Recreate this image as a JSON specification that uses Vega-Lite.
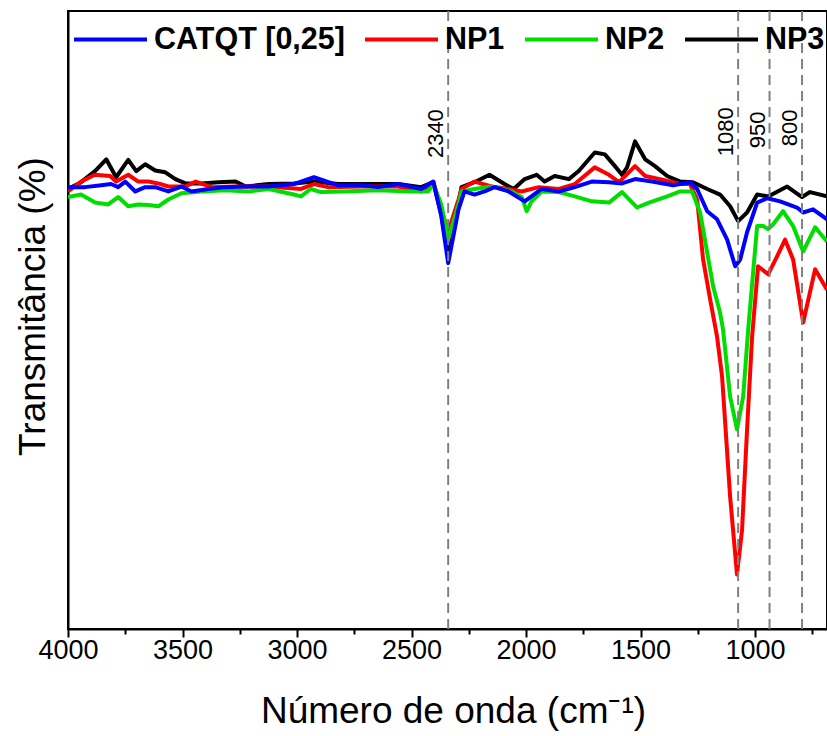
{
  "$schema": "https://vega.github.io/schema/vega-lite/v6.json",
  "width": 759,
  "height": 618,
  "autosize": {"type": "none"},
  "padding": {"left": 68, "top": 11, "right": 0, "bottom": 107},
  "background": "white",
  "config": {
    "font": "Liberation Sans",
    "view": {"stroke": "black", "strokeWidth": 2},
    "axis": {"domainColor": "black", "domainWidth": 2, "tickColor": "black", "tickWidth": 2, "labelColor": "black", "titleColor": "black", "grid": false, "labelFontSize": 27, "titleFontSize": 37, "titleFontWeight": "normal"}
  },
  "resolve": {"axis": {"x": "independent"}},
  "layer": [
    {
      "data": {"values": [
        {"s":"NP3","wn":4000,"t":71.2},{"s":"NP3","wn":3943,"t":72.3},{"s":"NP3","wn":3882,"t":74.1},{"s":"NP3","wn":3833,"t":76.0},{"s":"NP3","wn":3790,"t":73.1},{"s":"NP3","wn":3737,"t":75.9},{"s":"NP3","wn":3702,"t":74.1},{"s":"NP3","wn":3663,"t":75.2},{"s":"NP3","wn":3619,"t":74.2},{"s":"NP3","wn":3575,"t":73.9},{"s":"NP3","wn":3531,"t":72.8},{"s":"NP3","wn":3487,"t":72.1},{"s":"NP3","wn":3417,"t":72.1},{"s":"NP3","wn":3343,"t":72.3},{"s":"NP3","wn":3268,"t":72.4},{"s":"NP3","wn":3224,"t":71.6},{"s":"NP3","wn":3124,"t":72.0},{"s":"NP3","wn":3014,"t":72.1},{"s":"NP3","wn":2926,"t":72.4},{"s":"NP3","wn":2821,"t":72.0},{"s":"NP3","wn":2720,"t":72.0},{"s":"NP3","wn":2558,"t":72.0},{"s":"NP3","wn":2458,"t":71.5},{"s":"NP3","wn":2405,"t":72.3},{"s":"NP3","wn":2370,"t":67.1},{"s":"NP3","wn":2340,"t":60.1},{"s":"NP3","wn":2295,"t":68.7},{"s":"NP3","wn":2282,"t":71.5},{"s":"NP3","wn":2225,"t":72.3},{"s":"NP3","wn":2160,"t":73.5},{"s":"NP3","wn":2094,"t":72.0},{"s":"NP3","wn":2054,"t":71.2},{"s":"NP3","wn":2006,"t":72.8},{"s":"NP3","wn":1954,"t":73.5},{"s":"NP3","wn":1919,"t":72.4},{"s":"NP3","wn":1875,"t":73.3},{"s":"NP3","wn":1813,"t":72.8},{"s":"NP3","wn":1770,"t":74.1},{"s":"NP3","wn":1700,"t":77.1},{"s":"NP3","wn":1656,"t":76.8},{"s":"NP3","wn":1612,"t":74.9},{"s":"NP3","wn":1581,"t":73.5},{"s":"NP3","wn":1559,"t":74.7},{"s":"NP3","wn":1524,"t":78.9},{"s":"NP3","wn":1480,"t":76.0},{"s":"NP3","wn":1437,"t":74.9},{"s":"NP3","wn":1384,"t":73.3},{"s":"NP3","wn":1327,"t":72.4},{"s":"NP3","wn":1271,"t":72.3},{"s":"NP3","wn":1209,"t":71.2},{"s":"NP3","wn":1153,"t":70.3},{"s":"NP3","wn":1109,"t":68.4},{"s":"NP3","wn":1074,"t":66.0},{"s":"NP3","wn":1035,"t":67.4},{"s":"NP3","wn":991,"t":70.3},{"s":"NP3","wn":943,"t":70.0},{"s":"NP3","wn":860,"t":71.6},{"s":"NP3","wn":795,"t":69.9},{"s":"NP3","wn":760,"t":70.7},{"s":"NP3","wn":686,"t":70.0},
        {"s":"NP1","wn":4000,"t":70.8},{"s":"NP1","wn":3943,"t":72.4},{"s":"NP1","wn":3882,"t":73.5},{"s":"NP1","wn":3816,"t":73.3},{"s":"NP1","wn":3790,"t":72.4},{"s":"NP1","wn":3737,"t":73.5},{"s":"NP1","wn":3693,"t":72.4},{"s":"NP1","wn":3649,"t":72.4},{"s":"NP1","wn":3606,"t":72.1},{"s":"NP1","wn":3562,"t":71.6},{"s":"NP1","wn":3487,"t":71.6},{"s":"NP1","wn":3443,"t":72.4},{"s":"NP1","wn":3373,"t":71.5},{"s":"NP1","wn":3268,"t":71.6},{"s":"NP1","wn":3124,"t":71.6},{"s":"NP1","wn":2983,"t":71.2},{"s":"NP1","wn":2926,"t":72.0},{"s":"NP1","wn":2865,"t":71.5},{"s":"NP1","wn":2720,"t":71.6},{"s":"NP1","wn":2558,"t":71.6},{"s":"NP1","wn":2458,"t":70.8},{"s":"NP1","wn":2405,"t":72.3},{"s":"NP1","wn":2370,"t":67.9},{"s":"NP1","wn":2340,"t":64.3},{"s":"NP1","wn":2295,"t":69.5},{"s":"NP1","wn":2282,"t":71.2},{"s":"NP1","wn":2225,"t":72.4},{"s":"NP1","wn":2151,"t":71.6},{"s":"NP1","wn":2076,"t":71.2},{"s":"NP1","wn":2019,"t":70.8},{"s":"NP1","wn":1945,"t":71.5},{"s":"NP1","wn":1857,"t":71.2},{"s":"NP1","wn":1787,"t":72.0},{"s":"NP1","wn":1700,"t":74.7},{"s":"NP1","wn":1638,"t":73.5},{"s":"NP1","wn":1594,"t":72.3},{"s":"NP1","wn":1524,"t":74.9},{"s":"NP1","wn":1480,"t":73.3},{"s":"NP1","wn":1415,"t":72.8},{"s":"NP1","wn":1327,"t":72.0},{"s":"NP1","wn":1284,"t":72.0},{"s":"NP1","wn":1253,"t":69.5},{"s":"NP1","wn":1227,"t":59.8},{"s":"NP1","wn":1196,"t":53.3},{"s":"NP1","wn":1166,"t":47.3},{"s":"NP1","wn":1144,"t":40.8},{"s":"NP1","wn":1109,"t":21.4},{"s":"NP1","wn":1079,"t":8.8},{"s":"NP1","wn":1057,"t":16.0},{"s":"NP1","wn":1035,"t":32.3},{"s":"NP1","wn":1013,"t":47.3},{"s":"NP1","wn":987,"t":58.7},{"s":"NP1","wn":943,"t":57.4},{"s":"NP1","wn":904,"t":60.3},{"s":"NP1","wn":869,"t":63.0},{"s":"NP1","wn":834,"t":59.8},{"s":"NP1","wn":790,"t":49.6},{"s":"NP1","wn":738,"t":58.2},{"s":"NP1","wn":686,"t":54.9},
        {"s":"NP2","wn":4000,"t":69.9},{"s":"NP2","wn":3943,"t":70.3},{"s":"NP2","wn":3882,"t":69.0},{"s":"NP2","wn":3825,"t":68.7},{"s":"NP2","wn":3781,"t":69.9},{"s":"NP2","wn":3737,"t":68.4},{"s":"NP2","wn":3693,"t":68.7},{"s":"NP2","wn":3649,"t":68.6},{"s":"NP2","wn":3606,"t":68.4},{"s":"NP2","wn":3562,"t":69.5},{"s":"NP2","wn":3505,"t":70.5},{"s":"NP2","wn":3417,"t":70.8},{"s":"NP2","wn":3312,"t":71.0},{"s":"NP2","wn":3211,"t":70.8},{"s":"NP2","wn":3124,"t":71.2},{"s":"NP2","wn":3014,"t":70.3},{"s":"NP2","wn":2983,"t":70.0},{"s":"NP2","wn":2940,"t":71.2},{"s":"NP2","wn":2896,"t":70.7},{"s":"NP2","wn":2795,"t":70.8},{"s":"NP2","wn":2646,"t":71.0},{"s":"NP2","wn":2501,"t":70.8},{"s":"NP2","wn":2427,"t":70.8},{"s":"NP2","wn":2405,"t":72.0},{"s":"NP2","wn":2370,"t":68.7},{"s":"NP2","wn":2340,"t":63.0},{"s":"NP2","wn":2295,"t":68.7},{"s":"NP2","wn":2282,"t":70.8},{"s":"NP2","wn":2225,"t":71.2},{"s":"NP2","wn":2151,"t":71.6},{"s":"NP2","wn":2063,"t":70.8},{"s":"NP2","wn":2019,"t":69.9},{"s":"NP2","wn":1997,"t":67.6},{"s":"NP2","wn":1976,"t":69.2},{"s":"NP2","wn":1932,"t":70.8},{"s":"NP2","wn":1857,"t":70.7},{"s":"NP2","wn":1787,"t":70.0},{"s":"NP2","wn":1713,"t":69.2},{"s":"NP2","wn":1638,"t":69.0},{"s":"NP2","wn":1581,"t":70.7},{"s":"NP2","wn":1515,"t":68.2},{"s":"NP2","wn":1463,"t":69.0},{"s":"NP2","wn":1384,"t":70.0},{"s":"NP2","wn":1327,"t":70.8},{"s":"NP2","wn":1275,"t":70.8},{"s":"NP2","wn":1240,"t":67.4},{"s":"NP2","wn":1209,"t":60.9},{"s":"NP2","wn":1183,"t":55.4},{"s":"NP2","wn":1153,"t":51.2},{"s":"NP2","wn":1140,"t":48.5},{"s":"NP2","wn":1109,"t":37.6},{"s":"NP2","wn":1079,"t":32.3},{"s":"NP2","wn":1052,"t":37.6},{"s":"NP2","wn":1030,"t":48.5},{"s":"NP2","wn":991,"t":65.2},{"s":"NP2","wn":965,"t":65.2},{"s":"NP2","wn":943,"t":64.7},{"s":"NP2","wn":921,"t":65.5},{"s":"NP2","wn":878,"t":67.6},{"s":"NP2","wn":834,"t":65.2},{"s":"NP2","wn":790,"t":61.1},{"s":"NP2","wn":738,"t":65.0},{"s":"NP2","wn":686,"t":62.7},
        {"s":"CATQT [0,25]","wn":4000,"t":71.5},{"s":"CATQT [0,25]","wn":3926,"t":71.5},{"s":"CATQT [0,25]","wn":3855,"t":71.8},{"s":"CATQT [0,25]","wn":3812,"t":72.0},{"s":"CATQT [0,25]","wn":3781,"t":71.5},{"s":"CATQT [0,25]","wn":3750,"t":72.4},{"s":"CATQT [0,25]","wn":3706,"t":70.8},{"s":"CATQT [0,25]","wn":3663,"t":71.5},{"s":"CATQT [0,25]","wn":3619,"t":71.5},{"s":"CATQT [0,25]","wn":3562,"t":70.8},{"s":"CATQT [0,25]","wn":3505,"t":71.6},{"s":"CATQT [0,25]","wn":3461,"t":70.8},{"s":"CATQT [0,25]","wn":3387,"t":71.2},{"s":"CATQT [0,25]","wn":3312,"t":71.5},{"s":"CATQT [0,25]","wn":3224,"t":71.6},{"s":"CATQT [0,25]","wn":3124,"t":71.6},{"s":"CATQT [0,25]","wn":3014,"t":72.0},{"s":"CATQT [0,25]","wn":2926,"t":73.1},{"s":"CATQT [0,25]","wn":2821,"t":71.8},{"s":"CATQT [0,25]","wn":2720,"t":71.8},{"s":"CATQT [0,25]","wn":2646,"t":71.5},{"s":"CATQT [0,25]","wn":2558,"t":72.0},{"s":"CATQT [0,25]","wn":2458,"t":71.2},{"s":"CATQT [0,25]","wn":2405,"t":72.4},{"s":"CATQT [0,25]","wn":2370,"t":66.8},{"s":"CATQT [0,25]","wn":2340,"t":59.2},{"s":"CATQT [0,25]","wn":2295,"t":67.9},{"s":"CATQT [0,25]","wn":2269,"t":70.8},{"s":"CATQT [0,25]","wn":2225,"t":70.3},{"s":"CATQT [0,25]","wn":2181,"t":70.8},{"s":"CATQT [0,25]","wn":2138,"t":71.5},{"s":"CATQT [0,25]","wn":2076,"t":70.8},{"s":"CATQT [0,25]","wn":2006,"t":69.2},{"s":"CATQT [0,25]","wn":1932,"t":71.2},{"s":"CATQT [0,25]","wn":1857,"t":70.8},{"s":"CATQT [0,25]","wn":1787,"t":71.5},{"s":"CATQT [0,25]","wn":1713,"t":72.4},{"s":"CATQT [0,25]","wn":1638,"t":72.3},{"s":"CATQT [0,25]","wn":1581,"t":72.1},{"s":"CATQT [0,25]","wn":1524,"t":72.8},{"s":"CATQT [0,25]","wn":1450,"t":72.4},{"s":"CATQT [0,25]","wn":1358,"t":71.8},{"s":"CATQT [0,25]","wn":1284,"t":72.3},{"s":"CATQT [0,25]","wn":1253,"t":71.2},{"s":"CATQT [0,25]","wn":1209,"t":67.6},{"s":"CATQT [0,25]","wn":1166,"t":66.3},{"s":"CATQT [0,25]","wn":1122,"t":63.0},{"s":"CATQT [0,25]","wn":1087,"t":58.7},{"s":"CATQT [0,25]","wn":1065,"t":59.8},{"s":"CATQT [0,25]","wn":1035,"t":64.2},{"s":"CATQT [0,25]","wn":991,"t":69.0},{"s":"CATQT [0,25]","wn":947,"t":69.7},{"s":"CATQT [0,25]","wn":891,"t":69.2},{"s":"CATQT [0,25]","wn":817,"t":68.2},{"s":"CATQT [0,25]","wn":790,"t":67.4},{"s":"CATQT [0,25]","wn":747,"t":67.9},{"s":"CATQT [0,25]","wn":686,"t":66.3}
      ]},
      "mark": {"type": "line", "strokeWidth": 4, "clip": true, "strokeJoin": "round"},
      "encoding": {
        "x": {"field": "wn", "type": "quantitative", "scale": {"domain": [4000, 686], "nice": false, "zero": false},
              "axis": {"orient": "bottom", "values": [4000, 3500, 3000, 2500, 2000, 1500, 1000], "format": "d", "tickSize": 8, "labelPadding": 0, "title": "Número de onda (cm⁻¹)", "titlePadding": 30, "titleX": 385, "labelFlush": false}},
        "y": {"field": "t", "type": "quantitative", "scale": {"domain": [0, 100], "nice": false, "zero": false},
              "axis": {"title": "Transmitância (%)", "labels": false, "ticks": false, "titlePadding": 16, "titleY": 295}},
        "color": {"field": "s", "type": "nominal",
                  "scale": {"domain": ["CATQT [0,25]", "NP1", "NP2", "NP3"], "range": ["#0000ff", "#ff0000", "#00dd00", "#000000"]},
                  "legend": {"orient": "none", "legendX": 4, "legendY": -10, "direction": "horizontal", "title": null, "symbolType": "stroke", "symbolSize": 5329, "symbolStrokeWidth": 4, "labelFontSize": 30.5, "labelFontWeight": "bold", "labelColor": "black", "labelOffset": 5, "columnPadding": 12, "padding": 0, "labelLimit": 400}}
      }
    },
    {
      "data": {"values": [
        {"wn": 2340, "lab": "2340", "t": 76.2},
        {"wn": 1074, "lab": "1080", "t": 76.5},
        {"wn": 937, "lab": "950", "t": 77.8},
        {"wn": 795, "lab": "800", "t": 78.1}
      ]},
      "mark": {"type": "rule", "color": "#808080", "strokeWidth": 2, "strokeDash": [10, 6]},
      "encoding": {
        "x": {"field": "wn", "type": "quantitative",
              "axis": {"orient": "bottom", "values": [3750, 3250, 2750, 2250, 1750, 1250, 750], "labels": false, "tickSize": 5, "domain": false, "title": null}}
      }
    },
    {
      "data": {"values": [
        {"wn": 2340, "lab": "2340", "t": 76.2},
        {"wn": 1074, "lab": "1080", "t": 76.5},
        {"wn": 937, "lab": "950", "t": 77.8},
        {"wn": 795, "lab": "800", "t": 78.1}
      ]},
      "mark": {"type": "text", "angle": 270, "align": "left", "baseline": "alphabetic", "dy": -5, "fontSize": 22, "color": "black"},
      "encoding": {
        "x": {"field": "wn", "type": "quantitative", "axis": null},
        "y": {"field": "t", "type": "quantitative"},
        "text": {"field": "lab"}
      }
    }
  ]
}
